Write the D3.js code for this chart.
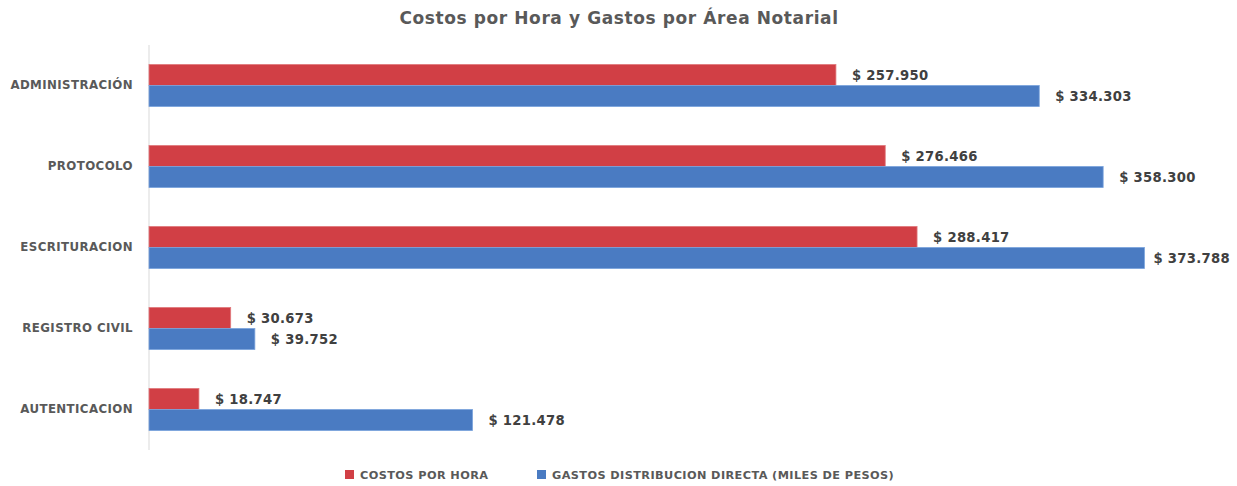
<!DOCTYPE html>
<html><head><meta charset="utf-8">
<script src="https://cdn.jsdelivr.net/npm/d3@7"></script>
<style>body{margin:0;background:#fff;} text{font-family:"DejaVu Sans",sans-serif;}</style>
</head><body><svg id="c" width="1237" height="486"></svg>
<script>
const categories = ["ADMINISTRACIÓN","PROTOCOLO","ESCRITURACION","REGISTRO CIVIL","AUTENTICACION"];
const costosPorHora = [257950, 276466, 288417, 30673, 18747];
const gastosDistribucion = [334303, 358300, 373788, 39752, 121478];
const seriesNames = ["COSTOS POR HORA","GASTOS DISTRIBUCION DIRECTA (MILES DE PESOS)"];
const colors = ["#d13f45","#4a7bc2"];
const title = "Costos por Hora y Gastos por Área Notarial";

(function(){
const svg = d3.select("#c");
const mLeft = 149, mTop = 45, mBottom = 450, rightLimit = 1230;
const x = d3.scaleLinear().domain([0, 400000]).range([mLeft, mLeft + 400000*0.002663]);
const y = d3.scaleBand().domain(categories).range([mTop, mBottom]).paddingInner(0.48).paddingOuter(0.24);
const sub = d3.scaleBand().domain([0,1]).range([0, y.bandwidth()]);
const fmt = v => "$ " + d3.format(",")(v).replace(/,/g, ".");

svg.append("text").attr("x", 619).attr("y", 24).attr("text-anchor","middle")
  .attr("font-size", 17).attr("letter-spacing", 0.6).attr("font-weight","bold").attr("fill","#595959").text(title);

svg.append("line").attr("x1", mLeft).attr("x2", mLeft).attr("y1", mTop).attr("y2", mBottom)
  .attr("stroke","#d9d9d9").attr("stroke-width",1);

const yAxis = d3.axisLeft(y).tickSize(0).tickPadding(16);
const ga = svg.append("g").attr("transform", `translate(${mLeft},0)`).call(yAxis);
ga.select(".domain").remove();
ga.selectAll("text").attr("font-size", 11.8).attr("letter-spacing", 0.4).attr("font-weight","bold").attr("fill","#595959")
  .style("font-family","'DejaVu Sans',sans-serif");

const data = [costosPorHora, gastosDistribucion];
data.forEach((vals, si) => {
  const g = svg.append("g");
  g.selectAll("rect").data(vals).join("rect")
    .attr("x", x(0)).attr("y", (d,i) => y(categories[i]) + sub(si))
    .attr("width", d => x(d) - x(0)).attr("height", sub.bandwidth())
    .attr("fill", colors[si]).attr("stroke", si ? "#7aa3dc" : "#e07a7e").attr("stroke-width", 0.8);
  g.selectAll("text").data(vals).join("text")
    .attr("x", d => x(d) + 16).attr("y", (d,i) => y(categories[i]) + sub(si) + sub.bandwidth()/2)
    .attr("dy","0.36em").attr("font-size", 13.2).attr("letter-spacing", 0.3).attr("font-weight","bold").attr("fill","#404040")
    .text(fmt)
    .each(function(d){
      const w = this.getComputedTextLength();
      const x0 = x(d) + 16;
      if (x0 + w > rightLimit) d3.select(this).attr("x", Math.max(x(d) + 4, rightLimit - w));
    });
});

const leg = svg.append("g");
const legX = [345, 537];
seriesNames.forEach((n, i) => {
  leg.append("rect").attr("x", legX[i]).attr("y", 470).attr("width", 9).attr("height", 9).attr("fill", colors[i]);
  leg.append("text").attr("x", legX[i] + 15).attr("y", 475).attr("dy","0.35em")
    .attr("font-size", 11.3).attr("letter-spacing", 0.4).attr("font-weight","bold").attr("fill","#595959").text(n);
});
})();
</script></body></html>
